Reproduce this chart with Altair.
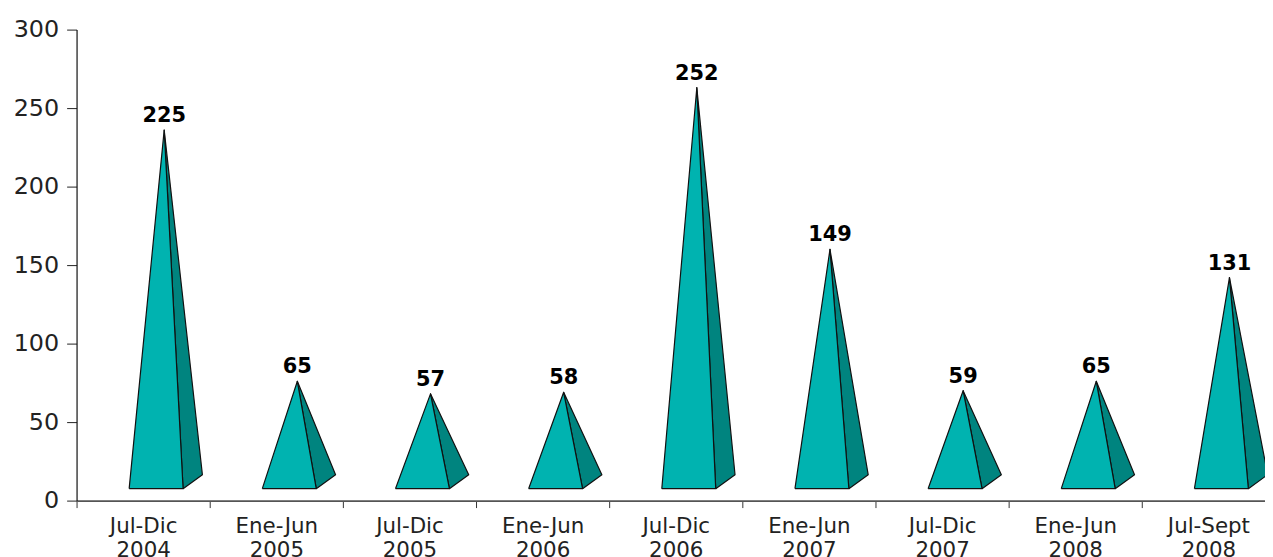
import json
import altair as alt
import pandas as pd

# ---- data ----
periods_line1 = ["Jul-Dic", "Ene-Jun", "Jul-Dic", "Ene-Jun", "Jul-Dic", "Ene-Jun", "Jul-Dic", "Ene-Jun", "Jul-Sept"]
periods_line2 = ["2004", "2005", "2005", "2006", "2006", "2007", "2007", "2008", "2008"]
values = [225, 65, 57, 58, 252, 149, 59, 65, 131]

# ---- pyramid geometry (style constants, in category / value units) ----
FRONT_L, FRONT_R, BACK_R, APEX_X = 0.395, 0.80, 0.945, 0.658
BASE_FRONT, BASE_BACK, APEX_LIFT = 7.6, 16.5, 11.0

rows = []
for i, v in enumerate(values):
    apex = (i + APEX_X, v + APEX_LIFT)
    front = [(i + FRONT_L, BASE_FRONT), (i + FRONT_R, BASE_FRONT), apex, (i + FRONT_L, BASE_FRONT)]
    side = [(i + FRONT_R, BASE_FRONT), (i + BACK_R, BASE_BACK), apex, (i + FRONT_R, BASE_FRONT)]
    for face, pts in (("front", front), ("side", side)):
        for k, (x, y) in enumerate(pts):
            rows.append({"cat": i, "face": face, "order": k, "x": x, "y": y})
poly = pd.DataFrame(rows)

labels = pd.DataFrame({
    "x": [i + APEX_X for i in range(len(values))],
    "y": [v + APEX_LIFT for v in values],
    "label": [str(v) for v in values],
})

FONT = "DejaVu Sans"

l1 = json.dumps(periods_line1)
l2 = json.dumps(periods_line2)
label_expr = (
    f"datum.value % 1 === 0 ? '' : [{l1}[floor(datum.value)], {l2}[floor(datum.value)]]"
)
x_vals = []
for i in range(len(values)):
    x_vals += [i, i + 0.5]

x_scale = alt.Scale(domain=[0, 8.925], nice=False, zero=False)
y_scale = alt.Scale(domain=[0, 300], nice=False)

x_axis = alt.Axis(
    values=x_vals, labelExpr=label_expr, title=None, grid=False,
    tickOpacity={"condition": {"test": "datum.value % 1 === 0", "value": 1}, "value": 0},
    tickSize=7, tickColor="#333333", domainColor="#555555", domainWidth=1.7,
    labelFont=FONT, labelFontSize=21.5, labelColor="#222222", labelAngle=0,
    labelAlign="center", labelBaseline="top", labelLineHeight=24,
    labelPadding=8, labelOverlap=False, labelFlush=False,
)
y_axis = alt.Axis(
    values=[0, 50, 100, 150, 200, 250, 300], title=None, grid=False,
    tickSize=10, tickColor="#222222", domainColor="#111111", domainWidth=1.2,
    labelFont=FONT, labelFontSize=24, labelColor="#222222", labelPadding=8,
)

X = alt.X("x:Q", scale=x_scale, axis=x_axis)
Y = alt.Y("y:Q", scale=y_scale, axis=y_axis)

side = (
    alt.Chart(poly)
    .transform_filter(alt.datum.face == "side")
    .mark_line(fill="#00847f", stroke="#111111", strokeWidth=1.2, strokeJoin="round")
    .encode(x=X, y=Y, order="order:Q", detail="cat:N")
)
front = (
    alt.Chart(poly)
    .transform_filter(alt.datum.face == "front")
    .mark_line(fill="#00b3b0", stroke="#111111", strokeWidth=1.2, strokeJoin="round")
    .encode(x=X, y=Y, order="order:Q", detail="cat:N")
)
text = (
    alt.Chart(labels)
    .mark_text(font=FONT, fontSize=21, fontWeight="bold", color="#000000",
               baseline="alphabetic", dy=-8)
    .encode(x=X, y=Y, text="label:N")
)

chart = (
    alt.layer(side, front, text)
    .properties(
        width=1196, height=474,
        padding={"left": 69, "top": 20, "right": 0, "bottom": 55},
        autosize=alt.AutoSizeParams(type="none"),
    )
    .configure_view(stroke=None)
)

chart.save("out.html", embed_options={"renderer": "svg", "actions": False})
